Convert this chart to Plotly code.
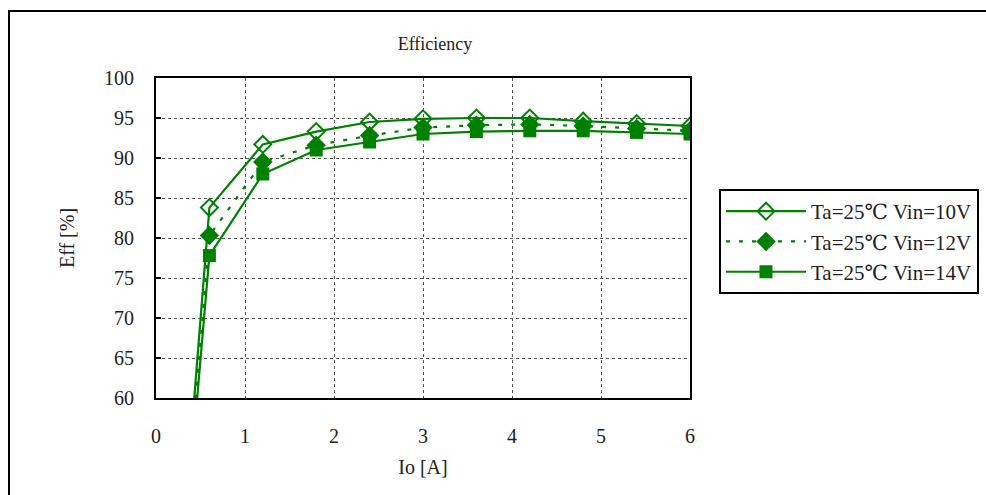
import plotly.graph_objects as go

io = [0, 0.6, 1.2, 1.8, 2.4, 3.0, 3.6, 4.2, 4.8, 5.4, 6.0]
eff_10v = [0, 83.8, 91.7, 93.3, 94.5, 94.9, 95.0, 95.0, 94.6, 94.3, 94.0]
eff_12v = [0, 80.3, 89.5, 91.6, 92.8, 93.8, 94.1, 94.2, 94.0, 93.7, 93.4]
eff_14v = [0, 77.8, 88.0, 91.0, 92.0, 93.0, 93.3, 93.4, 93.4, 93.2, 93.0]
names = ["Ta=25℃ Vin=10V", "Ta=25℃ Vin=12V", "Ta=25℃ Vin=14V"]
x_ticks = [0, 1, 2, 3, 4, 5, 6]
y_ticks = [60, 65, 70, 75, 80, 85, 90, 95, 100]

GREEN = "#008000"
FONT = "Liberation Serif, DejaVu Serif, serif"

W, H = 986, 495
ML, MR, MT, MB = 156, 296, 78, 97
PW, PH = W - ML - MR, H - MT - MB

fig = go.Figure()
fig.add_trace(go.Scatter(
    x=io, y=eff_10v, name=names[0], mode="lines+markers",
    line=dict(color=GREEN, width=2.2),
    marker=dict(symbol="diamond-open", size=13, color=GREEN, line=dict(width=2, color=GREEN)),
))
fig.add_trace(go.Scatter(
    x=io, y=eff_12v, name=names[1], mode="lines+markers",
    line=dict(color=GREEN, width=2.2, dash="4px,9px"),
    marker=dict(symbol="diamond", size=15, color=GREEN),
))
fig.add_trace(go.Scatter(
    x=io, y=eff_14v, name=names[2], mode="lines+markers",
    line=dict(color=GREEN, width=2.2),
    marker=dict(symbol="square", size=13, color=GREEN),
))

# outer chart border (extends past right/bottom edges as in reference)
x0 = (9 - ML) / PW
x1 = (W + 5 - ML) / PW
y1 = (H - MB - 11) / PH
y0 = (H - MB - (H + 5)) / PH
fig.add_shape(type="rect", xref="paper", yref="paper", x0=x0, x1=x1, y0=y0, y1=y1,
              line=dict(color="black", width=2), fillcolor="rgba(0,0,0,0)", layer="below")

fig.update_layout(
    width=W, height=H,
    margin=dict(l=ML, r=MR, t=MT, b=MB, autoexpand=False),
    paper_bgcolor="white", plot_bgcolor="white",
    font=dict(family=FONT, color="#222", size=20),
    title=dict(text="Efficiency", x=435 / W, xanchor="center", y=1 - 44 / H, yanchor="middle",
               font=dict(family=FONT, size=18, color="#222")),
    showlegend=True,
    legend=dict(x=(719 - ML) / PW, xanchor="left", y=(H - MB - 189) / PH, yanchor="top",
                bordercolor="black", borderwidth=2, bgcolor="white",
                font=dict(family=FONT, size=21, color="#222"), itemwidth=80,
                tracegroupgap=0),
    xaxis=dict(range=[0, 6], tickvals=x_ticks, showgrid=True, gridcolor="#555", griddash="dot",
               gridwidth=1, showline=True, linecolor="black", linewidth=2, mirror=True,
               ticks="", ticklabelstandoff=19, zeroline=False,
               title=dict(text="Io [A]", standoff=14, font=dict(family=FONT, size=20))),
    yaxis=dict(range=[60, 100], tickvals=y_ticks, showgrid=True, gridcolor="#555", griddash="dot",
               gridwidth=1, showline=True, linecolor="black", linewidth=2, mirror=True,
               ticks="inside", ticklen=5, tickcolor="black", tickwidth=2,
               ticklabelstandoff=16, zeroline=False,
               title=dict(text="Eff [%]", standoff=24, font=dict(family=FONT, size=20))),
)

fig.write_html("out.html", config={"displayModeBar": False},
               post_script="document.body.style.margin='0';document.body.style.overflow='hidden';")
